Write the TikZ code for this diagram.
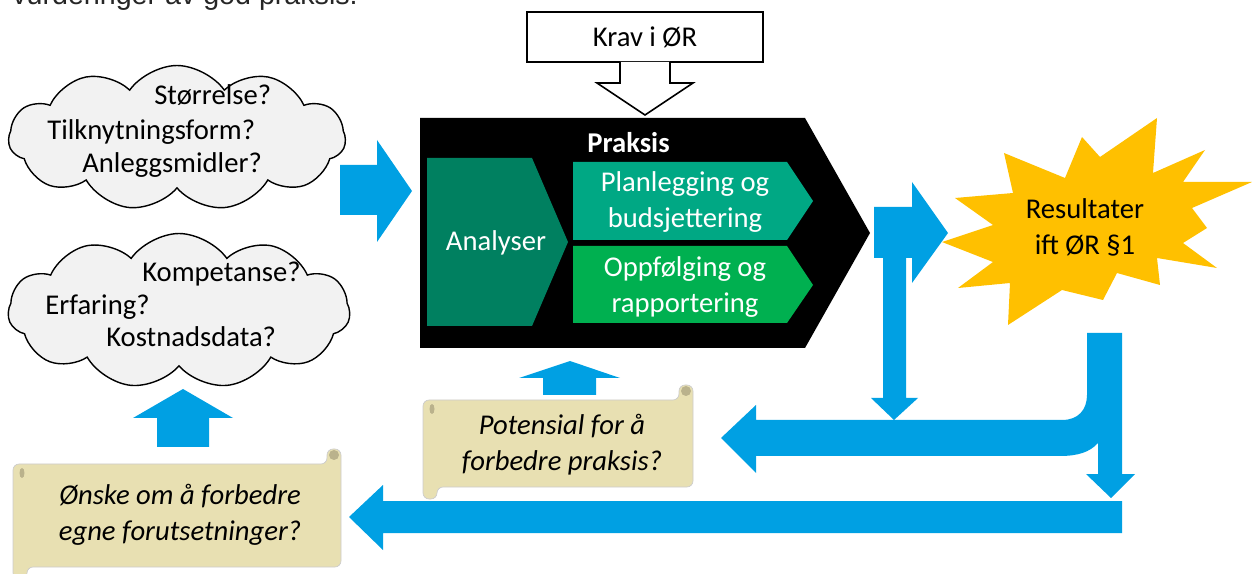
\documentclass[tikz,border=0pt]{standalone}
\usepackage{fontspec}
\setmainfont{Carlito}
\newfontfamily\arialfont{Liberation Sans}
\usetikzlibrary{shapes.symbols, positioning}
\definecolor{arrowblue}{RGB}{0,160,227}
\definecolor{darkteal}{RGB}{0,128,96}
\definecolor{planteal}{RGB}{0,168,132}
\definecolor{oppgreen}{RGB}{0,176,80}
\definecolor{burstgold}{RGB}{255,192,0}
\definecolor{scrolltan}{RGB}{232,224,178}
\definecolor{scrollcurl}{RGB}{186,178,140}
\definecolor{cloudgray}{RGB}{242,242,242}
\tikzset{
    txt/.style={font=\fontsize{16.3}{20.4}\selectfont, inner sep=0pt, align=center},
    cloudbox/.style={cloud, cloud puffs=11, cloud puff arc=110, aspect=2.4, draw=black, line width=0.8pt, fill=cloudgray, inner sep=0pt},
    bluearrow/.style={fill=arrowblue, draw=none},
    outline/.style={draw=black, fill=white, line width=0.9pt},
    scrollbody/.style={fill=scrolltan, draw=gray!40, line width=0.4pt, rounded corners=3.5pt}
}
% x1, y1, x2, y2 of the scroll body
\newcommand{\drawscroll}[4]{%
    \path[scrollbody] (#1,#2) -- ({#3-14},#2) -- ({#3-14},{#2-15}) -- (#3,{#2-15}) -- (#3,#4)
        -- ({#1+14},#4) -- ({#1+14},{#4+12}) -- (#1,{#4+12}) -- cycle;
    \fill[scrollcurl] ({#3-7},{#2-9}) circle[radius=0.1cm];
    \fill[scrollcurl] ({#1+9},{#2+9}) ellipse[x radius=0.05cm, y radius=0.1cm];
}

\begin{document}
\begin{tikzpicture}[x=0.02cm, y=-0.02cm]
    \useasboundingbox (0,0) rectangle (1252,574);
    \clip (0,0) rectangle (1252,574);
    \node[txt, anchor=base west, font=\arialfont\fontsize{16.3}{20}\selectfont, text=black!85] (intro) at (12,5) {vurderinger av god praksis.};

    % Clouds
    \node[cloudbox, minimum width=6.74cm, minimum height=2.9cm] (cloudorg) at (177,138) {};
    \node[txt, anchor=base west] (size) at (154,105) {Størrelse?};
    \node[txt, anchor=base west] (form) at (47,140) {Tilknytningsform?};
    \node[txt, anchor=base west] (assets) at (82,173) {Anleggsmidler?};
    \node[cloudbox, minimum width=6.84cm, minimum height=3.1cm] (cloudcomp) at (179,311) {};
    \node[txt, anchor=base west] (skill) at (142,282) {Kompetanse?};
    \node[txt, anchor=base west] (exp) at (45,315) {Erfaring?};
    \node[txt, anchor=base west] (cost) at (106,347) {Kostnadsdata?};

    % Krav
    \node[txt, outline, minimum width=4.72cm, minimum height=1cm] (krav) at (645,37) {Krav i ØR};
    \draw[outline, line join=miter] (620,62) -- (620,83) -- (597,83) -- (645,115) -- (693,83) -- (670,83) -- (670,62);

    % Praksis
    \fill[black] (420,118) -- (805,118) -- (870,233) -- (805,348) -- (420,348) -- cycle;
    \fill[darkteal] (427,158) -- (532,158) -- (568,242) -- (532,326) -- (427,326) -- cycle;
    \fill[planteal] (573,162) -- (787,162) -- (813,201) -- (787,240) -- (573,240) -- cycle;
    \fill[oppgreen] (573,246) -- (787,246) -- (813,285) -- (787,323) -- (573,323) -- cycle;
    \node[txt, anchor=base west, text=white, font=\bfseries\fontsize{16.3}{20}\selectfont] (praksis) at (587,153) {Praksis};
    \node[txt, text=white] (analyser) at (496,243) {Analyser};
    \node[txt, text=white] (plan) at (685,202) {Planlegging og\\budsjettering};
    \node[txt, text=white] (oppf) at (685,287) {Oppfølging og\\rapportering};

    % Resultater
    \fill[burstgold] (942,242) -- (993,225) -- (955,198) -- (1013,193) -- (1004,153) -- (1065,178)
        -- (1082,137) -- (1100,157) -- (1157,118) -- (1153,173) -- (1205,150) -- (1183,182)
        -- (1252,182) -- (1192,208) -- (1207,228) -- (1183,243) -- (1217,268) -- (1157,258)
        -- (1160,285) -- (1117,273) -- (1103,300) -- (1062,290) -- (1008,325) -- (1010,283)
        -- (958,288) -- (993,262) -- cycle;
    \node[txt] (res) at (1085,227) {Resultater\\ift ØR §1};

    % Scrolls
    \drawscroll{423}{400}{693}{487}
    \node[txt, font=\itshape\fontsize{16.3}{20.4}\selectfont] (potensial) at (562,445) {Potensial for å\\forbedre praksis?};
    \drawscroll{13}{464}{341}{567}
    \node[txt, font=\itshape\fontsize{16.3}{20.4}\selectfont] (onske) at (180,515) {Ønske om å forbedre\\egne forutsetninger?};

    % Arrows
    \fill[bluearrow] (340,165) -- (377,165) -- (377,140) -- (412,191) -- (377,242) -- (377,215) -- (340,215) -- cycle;
    \fill[bluearrow] (874,207) -- (912,207) -- (912,182) -- (948,233) -- (912,283) -- (912,258) -- (906,258)
        -- (906,398) -- (918,398) -- (894,420) -- (871,398) -- (883,398) -- (883,258) -- (874,258) -- cycle;
    \fill[bluearrow] (721,438) -- (756,405) -- (756,420) -- (1062,420) .. controls (1078,420) and (1087,410) .. (1087,395)
        -- (1087,333) -- (1122,333) -- (1122,474) -- (1135,474) -- (1111,498) -- (1086,474) -- (1098,474)
        -- (1098,443) .. controls (1090,452) and (1078,456) .. (1060,456) -- (756,456) -- (756,473) -- cycle;
    \fill[bluearrow] (349,517) -- (383,485) -- (383,501) -- (1122,501) -- (1122,533) -- (383,533) -- (383,550) -- cycle;
    \fill[bluearrow] (157,447) -- (157,418) -- (133,418) -- (183,389) -- (233,418) -- (209,418) -- (209,447) -- cycle;
    \fill[bluearrow] (543,395) -- (543,378) -- (519,378) -- (570,361) -- (620,378) -- (596,378) -- (596,395) -- cycle;
\end{tikzpicture}
\end{document}
